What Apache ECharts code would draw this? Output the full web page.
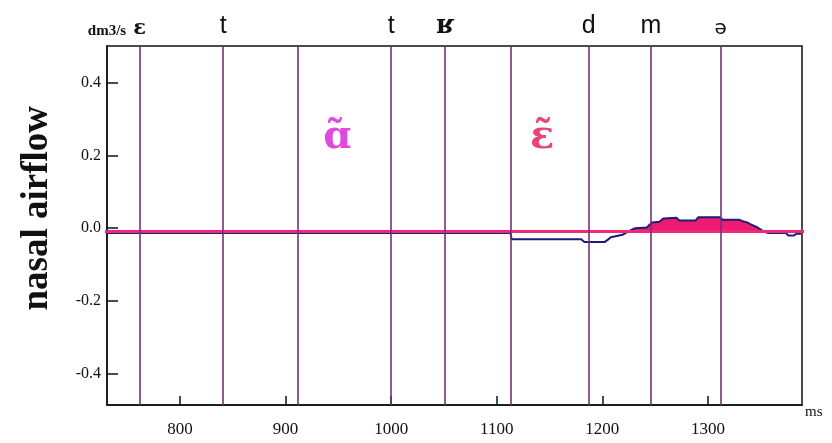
<!DOCTYPE html>
<html>
<head>
<meta charset="utf-8">
<script src="https://cdn.jsdelivr.net/npm/echarts@6/dist/echarts.min.js"></script>
<style>
  html, body { margin: 0; padding: 0; background: #fff; }
  #chart { width: 832px; height: 443px; }
</style>
</head>
<body>
<div id="chart"></div>
<script>
// Nasal airflow trace (dm3/s) over time (ms)
const timeMs = [731, 1113, 1114, 1180, 1183, 1202, 1205, 1208, 1219, 1225, 1231, 1242, 1247, 1254, 1258, 1270,
                1273, 1288, 1291, 1311, 1314, 1330, 1333, 1337, 1341, 1347, 1352, 1357, 1374, 1376, 1381, 1384, 1388];
const airflow = [-0.013, -0.013, -0.030, -0.030, -0.038, -0.038, -0.032, -0.025, -0.018, -0.008, 0.0, 0.002, 0.016, 0.018, 0.027, 0.029,
                 0.021, 0.021, 0.030, 0.030, 0.023, 0.023, 0.019, 0.016, 0.010, 0.002, -0.008, -0.013, -0.013, -0.020, -0.020, -0.015, -0.015];

// zero reference level of the recording
const baseline = -0.009;
const baselineSpan = [727, 1396];

// segment boundaries and the phone label printed above each one
const boundaries = [762, 841, 912, 1000, 1051, 1113, 1187, 1246, 1312];
const phones = ['ɛ', 't', '', 't', 'ʁ', '', 'd', 'm', 'ə'];

// nasal vowels annotated inside the chart
const vowelNotes = [
  { text: 'ɑ̃', x: 949, y: 0.25, color: '#d81ad8' },
  { text: 'ɛ̃', x: 1143, y: 0.25, color: '#e2145a' }
];

const xTicks = [800, 900, 1000, 1100, 1200, 1300];
const yTicks = [-0.4, -0.2, 0.0, 0.2, 0.4];
const xRange = [731, 1389];
const yRange = [-0.485, 0.50];

const phoneStyle = {
  'ɛ': { fontFamily: 'DejaVu Serif', fontSize: 21, fontWeight: 'bold' },
  'ʁ': { fontFamily: 'DejaVu Serif', fontSize: 26, fontWeight: 'bold' },
  'ə': { fontFamily: 'DejaVu Sans', fontSize: 20, fontWeight: 'normal' }
};

const flowPoints = timeMs.map((t, i) => [t, airflow[i]]);
const fillPoints = timeMs.map((t, i) => [t, Math.max(airflow[i], baseline)]);

const markLines = boundaries.map((t, i) => {
  const st = phoneStyle[phones[i]] || { fontFamily: 'Liberation Sans', fontSize: 25, fontWeight: 'normal' };
  return [
    { xAxis: t, yAxis: yRange[0], name: phones[i],
      label: Object.assign({ show: true, position: 'end', formatter: '{b}', color: '#111', distance: 7 }, st) },
    { xAxis: t, yAxis: yRange[1] }
  ];
});

const chart = echarts.init(document.getElementById('chart'), null, { renderer: 'canvas' });

const tickLabel = { fontFamily: 'Liberation Serif', color: '#111' };

chart.setOption({
  animation: false,
  backgroundColor: '#fff',
  grid: { left: 107, top: 46, right: 30, bottom: 38, show: true, borderColor: '#111', borderWidth: 1.5 },
  xAxis: {
    type: 'value', min: xRange[0], max: xRange[1],
    name: 'ms', nameLocation: 'end', nameGap: 3,
    nameTextStyle: { fontFamily: 'Liberation Serif', fontSize: 15, color: '#111', verticalAlign: 'top' },
    axisLine: { show: true, onZero: false, lineStyle: { color: '#111', width: 1.5 } },
    axisTick: { show: true, inside: true, length: 9, customValues: xTicks, lineStyle: { color: '#111', width: 1.5 } },
    axisLabel: Object.assign({ customValues: xTicks, margin: 16, fontSize: 17, formatter: v => String(v) }, tickLabel),
    splitLine: { show: false }
  },
  yAxis: {
    type: 'value', min: yRange[0], max: yRange[1],
    name: 'dm3/s', nameLocation: 'end', nameGap: 7,
    nameTextStyle: { fontFamily: 'Liberation Serif', fontSize: 15, fontWeight: 'bold', color: '#111', align: 'center' },
    axisLine: { show: true, onZero: false, lineStyle: { color: '#111', width: 1.5 } },
    axisTick: { show: true, inside: true, length: 11, customValues: yTicks, lineStyle: { color: '#111', width: 1.5 } },
    axisLabel: Object.assign({ customValues: yTicks, margin: 6, fontSize: 16, formatter: v => v.toFixed(1) }, tickLabel),
    splitLine: { show: false }
  },
  graphic: [{
    type: 'text', left: 19, top: 106, rotation: Math.PI / 2,
    style: { text: 'nasal airflow', font: 'bold 37px "Liberation Serif"', fill: '#111' }
  }],
  series: [
    {
      type: 'line', name: 'nasal fill', data: fillPoints, symbol: 'none', z: 2,
      lineStyle: { width: 0, opacity: 0 },
      areaStyle: { color: '#ef1a72', opacity: 1, origin: baseline }
    },
    {
      type: 'line', name: 'airflow', data: flowPoints, symbol: 'none', z: 3,
      lineStyle: { color: '#1c1c7a', width: 2 }
    },
    {
      type: 'line', name: 'baseline', data: baselineSpan.map(t => [t, baseline]), symbol: 'none', z: 4,
      clip: false,
      lineStyle: { color: '#f0287a', width: 3 }
    },
    {
      type: 'line', name: 'boundaries', data: [], z: 5,
      markLine: {
        silent: true, symbol: ['none', 'none'],
        lineStyle: { color: '#73307a', width: 1.6, type: 'solid' },
        data: markLines
      }
    },
    {
      type: 'scatter', name: 'vowels', z: 6, symbolSize: 0,
      data: vowelNotes.map(n => ({
        value: [n.x, n.y], name: n.text,
        label: { show: true, position: 'inside', formatter: '{b}', color: n.color,
                 fontFamily: 'DejaVu Serif', fontSize: 40, fontWeight: 'bold' }
      }))
    }
  ]
});
</script>
</body>
</html>
